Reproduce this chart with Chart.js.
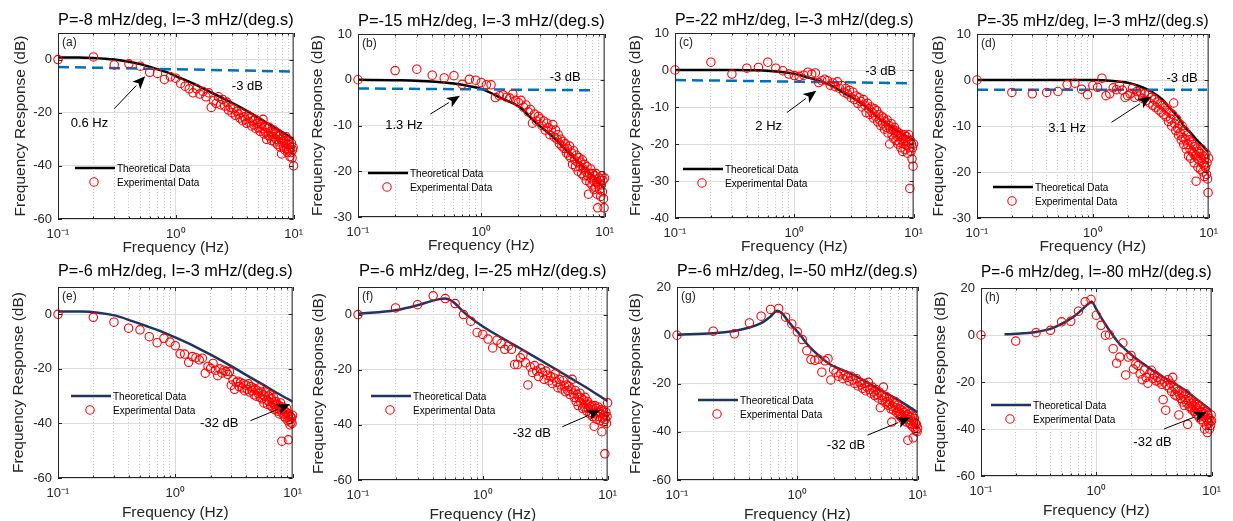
<!DOCTYPE html>
<html>
<head>
<meta charset="utf-8">
<title>Frequency response</title>
<script src="https://cdn.jsdelivr.net/npm/chart.js@4.4.1/dist/chart.umd.min.js"></script>
<style>
  html, body { margin: 0; padding: 0; background: #fff; }
  #wrap { position: relative; width: 1233px; height: 521px; overflow: hidden; background: #fff; }
  #wrap canvas { position: absolute; }
</style>
</head>
<body>
<div id="wrap"></div>
<script>
// frequencies (Hz) of the measured points, same for every panel
const freqHz = [
  0.1,0.2,0.3,0.4,0.5,0.6,0.7,0.8,0.9,1.0,
  1.1,1.2,1.3,1.4,1.5,1.6,1.7,1.8,1.9,2.0,
  2.1,2.2,2.3,2.4,2.5,2.6,2.7,2.8,2.9,3.0,
  3.1,3.2,3.3,3.4,3.5,3.6,3.7,3.8,3.9,4.0,
  4.1,4.2,4.3,4.4,4.5,4.6,4.7,4.8,4.9,5.0,
  5.1,5.2,5.3,5.4,5.5,5.6,5.7,5.8,5.9,6.0,
  6.1,6.2,6.3,6.4,6.5,6.6,6.7,6.8,6.9,7.0,
  7.1,7.2,7.3,7.4,7.5,7.6,7.7,7.8,7.9,8.0,
  8.1,8.2,8.3,8.4,8.5,8.6,8.7,8.8,8.9,9.0,
  9.1,9.2,9.3,9.4,9.5,9.6,9.7,9.8,9.9,10.0
];

// experimental data (dB), one value per frequency above
const expA = [
  0,1,-2,-1.6,-2.5,-4.8,-5.2,-7.5,-6.5,-7,
  -9,-10,-11,-12.5,-11,-13,-12,-14,-12.5,-18,
  -15.5,-16.5,-14,-17,-15,-17.5,-16,-19,-18,-20,
  -18.5,-21,-19.5,-20.5,-22,-20,-23,-21.5,-22.5,-24,
  -21,-23.5,-22,-25,-23,-24.5,-22.5,-26,-24,-25.5,
  -23.5,-27,-24.5,-26,-22.5,-28,-25,-27.5,-30,-26,
  -28.5,-25.5,-29,-27,-30.5,-27.5,-29,-26.5,-31,-28,
  -30,-27.5,-32,-29,-31,-28.5,-33,-30,-35.5,-31,
  -29.5,-33,-30.5,-34,-31.5,-29,-33.5,-32,-35,-30.5,
  -34,-32,-36.5,-33,-35,-31.5,-37,-34,-33,-40
];
const expB = [
  0,2,2.3,1,0.4,0.9,-1,0.1,-0.1,-0.6,
  -1.1,-1.1,-3.9,-3.5,-3.3,-3.8,-4,-3.1,-4.5,-5,
  -4.5,-6,-5.5,-7,-6.5,-9.5,-7.5,-9,-8,-8.5,
  -10,-9,-11,-9.5,-10.5,-12,-11,-9.8,-12.5,-11,
  -13,-12,-14,-13,-14.5,-13.5,-15,-14,-16,-15,
  -16.5,-14.5,-17,-16,-18.5,-15.5,-17.5,-19,-16.5,-18,
  -20,-17,-19,-18,-20.5,-17.5,-19.5,-21,-18.5,-20,
  -22,-19,-21,-25,-20.5,-22.5,-19.5,-21.5,-23,-20.5,
  -22,-24,-21,-23.5,-20.5,-22.5,-25,-28,-23,-21.5,
  -24,-22,-25.5,-23,-21,-24.5,-22,-26,-28,-21.5
];
const expC = [
  0,2.1,-1.1,0.5,0.7,2.1,0.5,-0.2,-1.1,-1.5,
  -1.7,-1.4,-0.6,-1.1,-0.8,-3.4,-2.9,-2.5,-2.9,-4.1,
  -3.5,-4.5,-3.2,-5,-4.2,-6,-5,-6.5,-5.5,-7.5,
  -6,-8,-7,-9,-7.5,-8.5,-10,-8,-9.5,-11.5,
  -9,-10.5,-12,-10,-11.5,-13,-10.5,-12.5,-11,-14,
  -12,-13.5,-15,-12.5,-14.5,-13,-16,-14,-15.5,-13.5,
  -17,-15,-20,-16,-14.5,-17.5,-16,-18.5,-15.5,-17,
  -19,-16.5,-18,-20,-17,-19.5,-18,-21,-17.5,-19,
  -22,-18.5,-20,-17.5,-21.5,-19,-18,-20.5,-22.5,-19.5,
  -17.5,-21,-32,-19,-22,-20,-24,-21,-26,-20
];
const expD = [
  0,-2.7,-3,-2.7,-2.5,-1,-0.7,-2,-3.2,-1.2,
  -1.6,0.4,-3.4,-3,-1.7,-2.1,-1.2,-2.2,-3.8,-3.4,
  -3,-1.8,-3.8,-2.5,-3.5,-2.8,-4,-3,-4.5,-3.2,
  -5,-3.8,-5.5,-4.2,-6,-4.8,-6.5,-5.2,-7,-5.5,
  -7.5,-6,-8,-6.5,-9,-7,-8.5,-10,-7.5,-5,
  -9.5,-11,-8.5,-10.5,-12,-9.5,-11.5,-13,-10,-12.5,
  -14,-11,-13,-15,-12,-14,-16.5,-13,-15,-17,
  -13.5,-15.5,-14,-16,-18,-14.5,-16.5,-22,-15,-17,
  -19,-15.5,-17.5,-16,-19.5,-17,-15,-18,-20,-16.5,
  -18.5,-21,-17,-19,-16,-20.5,-18,-21.5,-24.5,-17
];
const expE = [
  0,-1.1,-2.9,-5.1,-5.7,-8.2,-10.4,-8.8,-10.2,-11.5,
  -14.5,-14.6,-17.6,-15.5,-15.9,-16.7,-16.1,-21.6,-19.1,-19.8,
  -18,-20.5,-22.5,-20,-21.5,-20.5,-21,-22,-21,-26,
  -24,-27.5,-25,-24.5,-26.5,-25,-27,-25.5,-28,-26,
  -27.5,-25.5,-28.5,-26.5,-28,-27,-29.5,-27.5,-30,-28,
  -29,-27,-30.5,-28.5,-31,-29.5,-32.5,-30,-28.5,-31.5,
  -33,-30,-32,-29.5,-33.5,-31,-34,-32.5,-30.5,-33,
  -35,-32,-34.5,-33,-35.5,-33.5,-36.5,-34,-32.5,-35,
  -46.5,-34,-36.5,-35,-37.5,-35.5,-38,-36,-34.5,-37,
  -39,-46,-36.5,-38.5,-40.5,-37.5,-39.5,-38,-40,-37
];
const expF = [
  0,2.4,3.6,6.8,5.8,4,0,-2.4,-6.5,-7.2,
  -8.9,-12.1,-9.3,-10.5,-12.6,-11.4,-12.6,-18.1,-18.1,-15.7,
  -14.5,-17.5,-25.5,-19,-21,-18.5,-20.5,-22.5,-19.5,-21,
  -23.5,-20.5,-22,-24,-22.5,-25,-23,-21.5,-24.5,-26.5,
  -23.5,-25.5,-27,-24,-26,-28,-25.5,-27.5,-26,-29,
  -27,-23.5,-28.5,-30,-27.5,-31.5,-29,-33,-30,-28.5,
  -32,-30.5,-34,-31,-33.5,-30,-32.5,-35,-31.5,-34,
  -32.5,-36,-33.5,-35.5,-33,-37,-34.5,-40.5,-33,-36,
  -34,-38,-35.5,-33.5,-37,-35,-38.5,-36,-34.5,-42.5,
  -37.5,-35,-39,-36.5,-50.5,-38,-35.5,-39.5,-37,-32
];
const expG = [
  0,1.7,0.6,5.1,7.9,10.7,11.1,7.5,4.7,1.4,
  -1.8,-6.4,-10.1,-10.4,-9.9,-15.3,-10.6,-9.7,-18.5,-14.3,
  -15.5,-17,-16,-18,-16.5,-17.5,-19,-17,-18.5,-20,
  -18,-21,-19.5,-20.5,-22,-20,-23,-21.5,-19.5,-22.5,
  -24,-21.5,-23.5,-25,-22.5,-24.5,-26,-23.5,-30,-25,
  -27,-21.5,-26,-28,-25.5,-27.5,-29,-26.5,-28.5,-30.5,
  -36,-29.5,-31,-28.5,-27.5,-30,-32,-29,-31.5,-33,
  -30.5,-32.5,-34,-31,-33.5,-35,-32,-34.5,-31.5,-33.5,
  -36,-33,-43.5,-35,-32.5,-36.5,-34,-37,-35.5,-33.5,
  -38,-42.5,-36,-34.5,-38.5,-36.5,-39.5,-37,-40,-38.5
];
const expH = [
  0,-2.6,1,2,5.6,5.8,10.1,14.1,15.1,8.4,
  4.1,-0.1,0.1,-5.8,-12,-9.4,-3.4,-17,-9.4,-8.7,
  -14.5,-12.3,-13,-16.5,-19,-15,-18,-20.5,-16.5,-15,
  -18.5,-17,-19.5,-18,-20,-19,-21,-27.5,-20,-32,
  -21.5,-19,-22.5,-20.5,-24,-18,-22,-25.5,-23,-26,
  -24,-34,-25.5,-27,-24.5,-28.5,-26,-30,-27.5,-25,
  -29,-38,-28,-30.5,-27,-31,-29,-32,-30,-28.5,
  -32.5,-30.5,-33.5,-31,-29.5,-34,-32,-35,-30.5,-33,
  -36,-32.5,-34.5,-31.5,-37,-33.5,-40,-35,-32.5,-38.5,
  -36,-41.5,-34,-37.5,-35.5,-40,-36.5,-38.5,-34,-36.5
];

// theoretical curves: frequency (Hz) and response (dB)
const theoFreqA = [0.1,0.15,0.2,0.3,0.4,0.5,0.65,0.87,1,1.5,2,3,4,5,6,7,8,10];
const theoA     = [0.8,0.8,0.6,0,-0.8,-1.7,-3.2,-5,-6.2,-9.6,-12.4,-16.3,-19.3,-21.8,-24,-25.8,-27.3,-30];
const theoFreqB = [0.1,0.2,0.3,0.4,0.5,0.6,0.7,0.8,1,1.5,2,2.75,4,5,6,7,8,10];
const theoB     = [0,-0.1,-0.2,-0.4,-0.6,-0.8,-1.1,-1.4,-2,-4.2,-5.8,-9.3,-13,-15.7,-17.8,-19.5,-21,-23.8];
const theoFreqC = [0.1,0.3,0.5,0.7,1,1.5,2,2.7,3,4,5,6,7,8,10];
const theoC     = [0,0,-0.1,-0.4,-1,-2.6,-4,-6.5,-7.3,-10,-12.8,-14.6,-16,-17.2,-19];
const theoFreqD = [0.1,0.5,1,1.5,2,2.5,3.2,4,4.7,5.5,6.1,7,8,9,10];
const theoD     = [0,0,0,-0.2,-0.6,-1.3,-2.5,-4.3,-6.3,-8.2,-10,-11.5,-13.2,-14.5,-15.7];
const theoFreqE = [0.1,0.16,0.22,0.31,0.43,0.59,0.8,1,1.5,2,3,4,5.6,7,10];
const theoE     = [1,1,0.6,-0.5,-2.5,-4.6,-6.7,-8.5,-12,-14.8,-19,-22.2,-25.8,-28.3,-32];
const theoFreqF = [0.1,0.2,0.3,0.38,0.45,0.5,0.55,0.6,0.7,0.8,1,1.44,2,2.67,4,4.9,7,10];
const theoF     = [0.3,1.6,3.4,4.8,5.6,5.8,5.2,4,1,-1.2,-4.3,-8.6,-12.3,-15.6,-20.3,-22.7,-26.9,-31.4];
const theoFreqG = [0.1,0.2,0.3,0.4,0.5,0.6,0.68,0.75,0.82,0.9,1.05,1.2,1.36,1.6,1.86,2.54,3.5,4.7,7,10];
const theoG     = [0.3,0.8,1.8,3.2,5,7.8,10.2,9,6.5,4,0.3,-3.5,-6.4,-9.5,-12,-15,-18.5,-22.2,-27,-32];
const theoFreqH = [0.16,0.2,0.3,0.4,0.47,0.55,0.66,0.75,0.85,0.91,1,1.1,1.19,1.35,1.54,2.13,2.95,4,5.7,7.5,10];
const theoH     = [0.3,0.5,1.3,2.6,4.1,5.8,8.4,10.8,13.2,14.1,11,7.5,4.8,0.8,-3,-9.4,-14.4,-18.5,-23,-27.5,-32.2];

// -3 dB reference lines of the top row
const dbFreqA = [0.1,10],  dbA = [-2.8,-4.5];
const dbFreqB = [0.1,8.1], dbB = [-1.9,-2.3];
const dbFreqC = [0.1,10],  dbC = [-2.7,-3.6];
const dbFreqD = [0.1,9.7], dbD = [-2.1,-2.1];

// axis ticks
const xTicks = [0.1,0.2,0.3,0.4,0.5,0.6,0.7,0.8,0.9,1,2,3,4,5,6,7,8,9,10];
const yTicks60 = [-60,-40,-20,0];
const yTicks60b = [-60,-40,-20,0,20];
const yTicks30 = [-30,-20,-10,0,10];
const yTicks40 = [-40,-30,-20,-10,0,10];

const titles = [
  'P=-8 mHz/deg, I=-3 mHz/(deg.s)',
  'P=-15 mHz/deg, I=-3 mHz/(deg.s)',
  'P=-22 mHz/deg, I=-3 mHz/(deg.s)',
  'P=-35 mHz/deg, I=-3 mHz/(deg.s)',
  'P=-6 mHz/deg, I=-3 mHz/(deg.s)',
  'P=-6 mHz/deg, I=-25 mHz/(deg.s)',
  'P=-6 mHz/deg, I=-50 mHz/(deg.s)',
  'P=-6 mHz/deg, I=-80 mHz/(deg.s)'
];

const FONT = "'Liberation Sans', Arial, Helvetica, sans-serif";
const BLACK = '#000000', NAVY = '#1f3560', RED = '#ff0000', BLUE = '#0072bd', AXIS = '#262626';

// box = plot area on the page [left, top, right, bottom]
const panels = [
  {tag:'(a)', row:0, box:[58,33,297,219],  yMin:-60, yMax:10, yTicks:yTicks60, exp:expA, thF:theoFreqA, th:theoA, color:BLACK,
   dbF:dbFreqA, db:dbA, yGap:37, leg:[17,135],
   notes:[['-3 dB',4.05,-10.25],['0.6 Hz',0.185,-24]], arrow:[0.30,-18.5,0.55,-6.25]},
  {tag:'(b)', row:0, box:[358,34,608,217], yMin:-30, yMax:10, yTicks:yTicks30, exp:expB, thF:theoFreqB, th:theoB, color:BLACK,
   dbF:dbFreqB, db:dbB, yGap:40, leg:[10,139],
   notes:[['-3 dB',4.79,0.4],['1.3 Hz',0.236,-10]], arrow:[0.386,-7.5,0.671,-3.5]},
  {tag:'(c)', row:0, box:[675,33,917,218], yMin:-40, yMax:10, yTicks:yTicks40, exp:expC, thF:theoFreqC, th:theoC, color:BLACK,
   dbF:dbFreqC, db:dbC, yGap:39, leg:[8,136],
   notes:[['-3 dB',5.3,-0.45],['2 Hz',0.61,-15.2]], arrow:[0.867,-11.5,1.53,-5.6]},
  {tag:'(d)', row:0, box:[977,34,1212,218], yMin:-30, yMax:10, yTicks:yTicks30, exp:expD, thF:theoFreqD, th:theoD, color:BLACK,
   dbF:dbFreqD, db:dbD, yGap:38, leg:[16,153],
   notes:[['-3 dB',5.9,0.36],['3.1 Hz',0.6,-10.5]], arrow:[1.45,-9.2,3.18,-3.6]},
  {tag:'(e)', row:1, box:[58,287,296,478], yMin:-60, yMax:10, yTicks:yTicks60, exp:expE, thF:theoFreqE, th:theoE, color:NAVY,
   yGap:39, leg:[13,109], notes:[['-32 dB',2.37,-40.1]], arrow:[4.37,-39,9.5,-33]},
  {tag:'(f)', row:1, box:[358,287,611,480], yMin:-60, yMax:10, yTicks:yTicks60, exp:expF, thF:theoFreqF, th:theoF, color:NAVY,
   yGap:39, leg:[13,109], notes:[['-32 dB',2.47,-43.1]], arrow:[4.33,-40.7,8.7,-34.7]},
  {tag:'(g)', row:1, box:[677,287,921,480], yMin:-60, yMax:20, yTicks:yTicks60b, exp:expG, thF:theoFreqG, th:theoG, color:NAVY,
   yGap:41, leg:[21,113], notes:[['-32 dB',2.54,-45.6]], arrow:[3.83,-41.4,8.65,-34.2]},
  {tag:'(h)', row:1, box:[981,288,1215,476], yMin:-60, yMax:20, yTicks:yTicks60b, exp:expH, thF:theoFreqH, th:theoH, color:NAVY,
   yGap:40, leg:[10,117], notes:[['-32 dB',3.07,-45.7]], arrow:[3.86,-40,9.06,-32.9]}
];

const isMajor = v => Math.abs(Math.log10(v) - Math.round(Math.log10(v))) < 1e-6;
const xLabel = v => {
  if (Math.abs(v - 0.1) < 1e-9) return '10\u207B\u00B9';
  if (Math.abs(v - 1) < 1e-9) return '10\u2070';
  if (Math.abs(v - 10) < 1e-9) return '10\u00B9';
  return '';
};

// box, inward ticks, panel tag, legend and annotations
function decorPlugin(p) {
  return {
    id: 'decor' + p.tag,
    afterDatasetsDraw(chart) {
      const {ctx, chartArea: a, scales: {x, y}} = chart;
      ctx.save();
      ctx.strokeStyle = AXIS;
      ctx.lineWidth = 1;
      ctx.strokeRect(a.left + 0.5, a.top + 0.5, a.right - a.left - 1, a.bottom - a.top - 1);
      ctx.beginPath();
      x.ticks.forEach(t => {
        const px = Math.round(x.getPixelForValue(t.value)) + 0.5;
        const len = isMajor(t.value) ? 4 : 2.5;
        ctx.moveTo(px, a.bottom); ctx.lineTo(px, a.bottom - len);
        ctx.moveTo(px, a.top); ctx.lineTo(px, a.top + len);
      });
      y.ticks.forEach(t => {
        const py = Math.round(y.getPixelForValue(t.value)) + 0.5;
        ctx.moveTo(a.left, py); ctx.lineTo(a.left + 4, py);
        ctx.moveTo(a.right, py); ctx.lineTo(a.right - 4, py);
      });
      ctx.stroke();

      // panel tag
      ctx.fillStyle = AXIS;
      ctx.font = '12px ' + FONT;
      ctx.textAlign = 'left';
      ctx.textBaseline = 'middle';
      ctx.fillText(p.tag, a.left + 4, a.top + 10);

      // legend
      const lx = a.left + p.leg[0], ly = a.top + p.leg[1];
      ctx.strokeStyle = p.color;
      ctx.lineWidth = 2.5;
      ctx.beginPath(); ctx.moveTo(lx, ly); ctx.lineTo(lx + 40, ly); ctx.stroke();
      ctx.strokeStyle = RED;
      ctx.lineWidth = 1.1;
      ctx.beginPath(); ctx.arc(lx + 19, ly + 14, 4.2, 0, Math.PI * 2); ctx.stroke();
      ctx.fillStyle = BLACK;
      ctx.font = '10px ' + FONT;
      ctx.fillText('Theoretical Data', lx + 42, ly + 1);
      ctx.fillText('Experimental Data', lx + 42, ly + 15);

      // annotations
      ctx.font = '13px ' + FONT;
      ctx.textAlign = 'center';
      p.notes.forEach(n => ctx.fillText(n[0], x.getPixelForValue(n[1]), y.getPixelForValue(n[2])));
      const x0 = x.getPixelForValue(p.arrow[0]), y0 = y.getPixelForValue(p.arrow[1]);
      const x1 = x.getPixelForValue(p.arrow[2]), y1 = y.getPixelForValue(p.arrow[3]);
      const ang = Math.atan2(y1 - y0, x1 - x0);
      const hl = 13, hw = 5.5;
      const bx = x1 - hl * Math.cos(ang), by = y1 - hl * Math.sin(ang);
      ctx.strokeStyle = BLACK;
      ctx.lineWidth = 1;
      ctx.beginPath(); ctx.moveTo(x0, y0); ctx.lineTo(bx, by); ctx.stroke();
      ctx.fillStyle = BLACK;
      ctx.beginPath();
      ctx.moveTo(x1, y1);
      ctx.lineTo(bx + hw * Math.sin(ang), by - hw * Math.cos(ang));
      ctx.lineTo(x1 - 0.75 * hl * Math.cos(ang), y1 - 0.75 * hl * Math.sin(ang));
      ctx.lineTo(bx - hw * Math.sin(ang), by + hw * Math.cos(ang));
      ctx.closePath();
      ctx.fill();
      ctx.restore();
    }
  };
}

const wrap = document.getElementById('wrap');

panels.forEach((p, k) => {
  const [L, T, R, B] = p.box;
  const titleUp = p.row ? 16 : 13;      // title centre above plot top
  const xAxisH = p.row ? 46 : 42;
  const xTitleGap = p.row ? 35 : 29;    // x title centre below plot bottom
  const w = R - L + 62 + 14, h = 30 + (B - T) + xAxisH;
  const cv = document.createElement('canvas');
  cv.width = w; cv.height = h;
  cv.style.left = (L - 62) + 'px';
  cv.style.top = (T - 30) + 'px';
  cv.style.width = w + 'px';
  cv.style.height = h + 'px';
  wrap.appendChild(cv);

  const datasets = [
    {
      label: 'Experimental Data',
      data: p.exp.map((v, i) => ({x: freqHz[i], y: v})),
      showLine: false,
      pointRadius: 4.2,
      pointBorderColor: RED,
      pointBackgroundColor: 'rgba(0,0,0,0)',
      pointBorderWidth: 1.1,
      clip: false,
      order: 0
    },
    {
      label: 'Theoretical Data',
      data: p.thF.map((f, i) => ({x: f, y: p.th[i]})),
      showLine: true,
      pointRadius: 0,
      borderColor: p.color,
      borderWidth: 2.5,
      cubicInterpolationMode: 'monotone',
      order: 2
    }
  ];
  if (p.dbF) {
    datasets.push({
      label: '-3 dB',
      data: p.dbF.map((f, i) => ({x: f, y: p.db[i]})),
      showLine: true,
      pointRadius: 0,
      borderColor: BLUE,
      borderWidth: 2.5,
      borderDash: [11, 6],
      order: 1
    });
  }

  new Chart(cv, {
    type: 'scatter',
    data: {datasets},
    options: {
      responsive: false,
      animation: false,
      devicePixelRatio: 1,
      layout: {padding: {left: 0, right: 14, top: 0, bottom: 0}},
      plugins: {
        legend: {display: false},
        tooltip: {enabled: false},
        title: {
          display: true,
          text: titles[k],
          fullSize: false,
          color: BLACK,
          font: {family: FONT, size: 16.5, weight: 'normal', lineHeight: 1.2},
          padding: {top: 30 - titleUp - 9.9, bottom: titleUp - 9.9}
        }
      },
      scales: {
        x: {
          type: 'logarithmic',
          min: 0.1,
          max: 10,
          afterBuildTicks: s => { s.ticks = xTicks.map(v => ({value: v})); },
          afterFit: s => { s.height = xAxisH; },
          ticks: {
            autoSkip: false, maxRotation: 0, minRotation: 0, padding: 8,
            color: AXIS, font: {family: FONT, size: 13},
            callback: v => xLabel(v)
          },
          grid: {
            drawTicks: false,
            lineWidth: 1,
            color: c => (c.tick && isMajor(c.tick.value)) ? '#dcdcdc' : '#c4c4c4'
          },
          border: {
            display: false,
            dash: c => (c.tick && !isMajor(c.tick.value)) ? [1, 2] : []
          },
          title: {
            display: true,
            text: 'Frequency (Hz)',
            color: AXIS,
            font: {family: FONT, size: 15.5, lineHeight: 1.2},
            padding: {top: 0, bottom: xAxisH - xTitleGap - 9.3}
          }
        },
        y: {
          type: 'linear',
          min: p.yMin,
          max: p.yMax,
          afterBuildTicks: s => { s.ticks = p.yTicks.map(v => ({value: v})); },
          afterFit: s => { s.width = 62; },
          ticks: {
            padding: 6, color: AXIS, font: {family: FONT, size: 13},
            callback: v => String(v)
          },
          grid: {drawTicks: false, color: '#dcdcdc', lineWidth: 1},
          border: {display: false},
          title: {
            display: true,
            text: 'Frequency Response (dB)',
            color: AXIS,
            font: {family: FONT, size: 15.5, lineHeight: 1.2},
            padding: {top: 62 - p.yGap - 9.3, bottom: 0}
          }
        }
      }
    },
    plugins: [decorPlugin(p)]
  });
});
</script>
</body>
</html>
